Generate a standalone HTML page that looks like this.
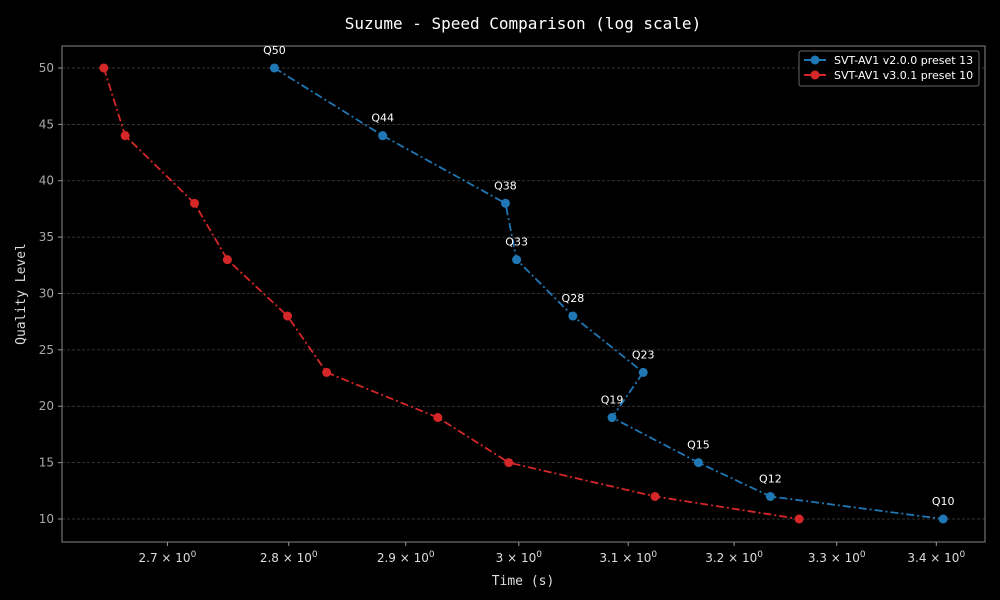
<!DOCTYPE html>
<html><head><meta charset="utf-8"><style>
body{margin:0;background:#000;}
svg{display:block;font-family:"DejaVu Sans","Liberation Sans",sans-serif;}
</style></head><body>
<svg id="c" width="1000" height="600" viewBox="0 0 1000 600">
<rect width="1000" height="600" fill="#000"/>
<text x="523" y="29" fill="#fff" font-family="DejaVu Sans Mono, Liberation Mono, monospace" font-size="16" text-anchor="middle">Suzume - Speed Comparison (log scale)</text>
<text x="523" y="585" fill="#ddd" font-family="DejaVu Sans Mono, Liberation Mono, monospace" font-size="13" text-anchor="middle">Time (s)</text>
<text transform="translate(25,294) rotate(-90)" fill="#ddd" font-family="DejaVu Sans Mono, Liberation Mono, monospace" font-size="13" text-anchor="middle">Quality Level</text>
<g id="grid"></g><g id="axes"></g><g id="series"></g>
<g>
<rect x="799" y="51" width="180" height="35" fill="#000" stroke="#666" rx="2"/>
<g><line x1="804" y1="60" x2="826" y2="60" stroke="#1f77b4" stroke-width="2"/><circle cx="815" cy="60" r="4.5" fill="#1f77b4"/><text x="834" y="64" fill="#fff" font-size="11">SVT-AV1 v2.0.0 preset 13</text></g>
<g><line x1="804" y1="75" x2="826" y2="75" stroke="#d62728" stroke-width="2"/><circle cx="815" cy="75" r="4.5" fill="#d62728"/><text x="834" y="79" fill="#fff" font-size="11">SVT-AV1 v3.0.1 preset 10</text></g>
</g>
</svg>
<script>
const qualities=[50,44,38,33,28,23,19,15,12,10];
const timesV2=[2.788,2.880,2.988,2.998,3.049,3.114,3.085,3.166,3.235,3.407];
const timesV3=[2.649,2.666,2.722,2.749,2.799,2.832,2.928,2.991,3.125,3.263];
const xTicks=[2.7,2.8,2.9,3.0,3.1,3.2,3.3,3.4];
const xTickLabels=["2.7","2.8","2.9","3","3.1","3.2","3.3","3.4"];
const yTicks=[10,15,20,25,30,35,40,45,50];
const L=62,R=985,T=46,B=542,xmin=2.616,xmax=3.450,ymin=7.96,ymax=51.95;
const NS="http://www.w3.org/2000/svg";
function X(v){return L+(Math.log(v)-Math.log(xmin))/(Math.log(xmax)-Math.log(xmin))*(R-L);}
function Y(v){return B-(v-ymin)/(ymax-ymin)*(B-T);}
function mk(t,a,p){const e=document.createElementNS(NS,t);for(const k in a)e.setAttribute(k,a[k]);p.appendChild(e);return e;}
const grid=document.getElementById('grid'),axes=document.getElementById('axes'),ser=document.getElementById('series');
yTicks.forEach(v=>{
 const g=mk('line',{x1:L,x2:R,y1:Y(v),y2:Y(v),stroke:'#444','stroke-dasharray':'3,2','stroke-width':0.8},grid);
 
 
 mk('line',{x1:L-4,x2:L,y1:Y(v),y2:Y(v),stroke:'#999'},axes);
 const t=mk('text',{x:L-8,y:Y(v)+4,fill:'#aaa','font-size':12,'text-anchor':'end'},axes);t.textContent=v;
 
 
});
xTicks.forEach((v,i)=>{
 mk('line',{x1:X(v),x2:X(v),y1:B,y2:B+4,stroke:'#999'},axes);
 const t=mk('text',{x:X(v),y:B+20,fill:'#ddd','font-size':12,'text-anchor':'middle'},axes);
 t.textContent=xTickLabels[i]+' \u00d7 10';
 const s=mk('tspan',{dy:-5,'font-size':9},t);s.textContent='0';
 
 
});
const fr=mk('rect',{x:L,y:T,width:R-L,height:B-T,fill:'none',stroke:'#888'},axes);


function series(times,col,name,labels){
 const g=mk('g',{},ser);
 
 
 mk('polyline',{points:times.map((t,i)=>X(t)+','+Y(qualities[i])).join(' '),fill:'none',stroke:col,'stroke-width':1.8,'stroke-dasharray':'8,3,2,3'},g);
 times.forEach((t,i)=>{
  const c=mk('circle',{cx:X(t),cy:Y(qualities[i]),r:4.5,fill:col},g);
  
  
  if(labels){const tx=mk('text',{x:X(t),y:Y(qualities[i])-14,fill:'#fff','font-size':11,'text-anchor':'middle'},g);tx.textContent='Q'+qualities[i];
   
   }
 });
}
series(timesV3,'#d62728','series-v3',false);
series(timesV2,'#1f77b4','series-v2',true);
</script>
</body></html>
